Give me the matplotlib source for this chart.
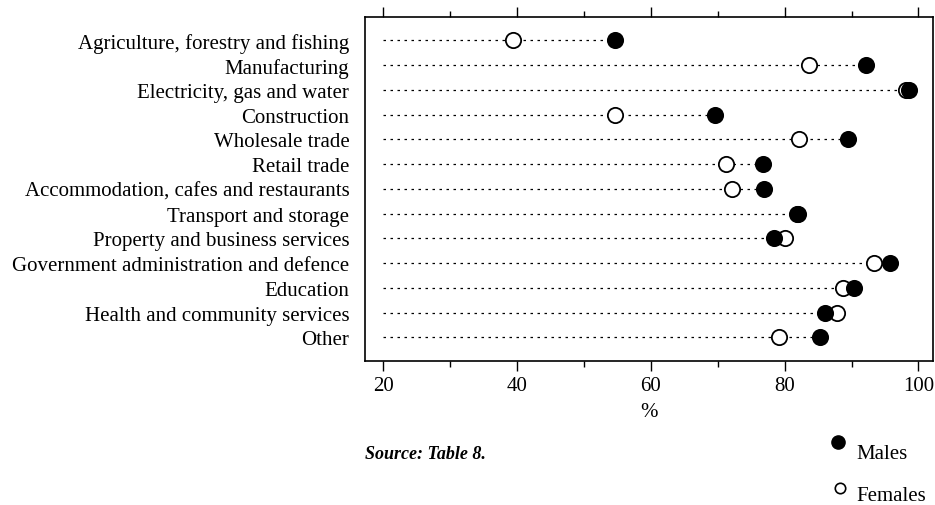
import matplotlib
matplotlib.use("Agg")
import matplotlib.pyplot as plt
from matplotlib.lines import Line2D
from matplotlib.ticker import MultipleLocator

plt.rcParams['font.family'] = ['Liberation Serif', 'DejaVu Serif']

industries = [
    "Agriculture, forestry and fishing",
    "Manufacturing",
    "Electricity, gas and water",
    "Construction",
    "Wholesale trade",
    "Retail trade",
    "Accommodation, cafes and restaurants",
    "Transport and storage",
    "Property and business services",
    "Government administration and defence",
    "Education",
    "Health and community services",
    "Other",
]
males = [54.6, 92.2, 98.6, 69.6, 89.5, 76.7, 76.9, 82.0, 78.4, 95.8, 90.4, 86.1, 85.3]
females = [39.4, 83.6, 98.1, 54.6, 82.1, 71.3, 72.1, 81.8, 80.1, 93.4, 88.7, 87.9, 79.2]
xticks = [20, 40, 60, 80, 100]

fig = plt.figure(figsize=(9.35, 5.06), dpi=100)
ax = fig.add_axes([0.390, 0.2846, 0.608, 0.680])

y = list(range(len(industries)))
for yi, m, f in zip(y, males, females):
    ax.plot([20, max(m, f)], [yi, yi], color='black', lw=0.9,
            linestyle=(0, (2.0, 3.6)), zorder=1)

ax.plot(females, y, 'o', ms=11, mfc='white', mec='black', mew=1.3,
        linestyle='none', zorder=2)
ax.plot(males, y, 'o', ms=11, mfc='black', mec='black', mew=1.3,
        linestyle='none', zorder=3)

ax.set_xlim(17.2, 102.2)
ax.set_ylim(12.95, -0.95)
ax.set_yticks(y)
ax.set_yticklabels(industries, fontsize=15)
ax.tick_params(axis='y', length=0, pad=11)
ax.set_xticks(xticks)
ax.set_xticklabels([str(t) for t in xticks], fontsize=15)
ax.xaxis.set_minor_locator(MultipleLocator(10))
ax.tick_params(axis='x', which='major', direction='out', top=True,
               labeltop=False, length=7, width=1.0, pad=4)
ax.tick_params(axis='x', which='minor', direction='out', top=True,
               length=4, width=1.0)
for s in ax.spines.values():
    s.set_linewidth(1.2)

ax.set_xlabel('%', fontsize=15, labelpad=5)

fig.text(365 / 935, 1 - 455 / 506, 'Source: Table 8.', fontsize=13,
         style='italic', weight='bold', va='center', ha='left')

fig.add_artist(Line2D([838 / 935], [1 - 443 / 506], marker='o', ms=9.5,
                      mfc='black', mec='black', transform=fig.transFigure))
fig.text(856 / 935, 1 - 455 / 506, 'Males', fontsize=15, va='center', ha='left')
fig.add_artist(Line2D([840 / 935], [1 - 489 / 506], marker='o', ms=7.5,
                      mfc='white', mec='black', mew=1.2, transform=fig.transFigure))
fig.text(856 / 935, 1 - 497 / 506, 'Females', fontsize=15, va='center', ha='left')

fig.savefig('out.png', dpi=100)
